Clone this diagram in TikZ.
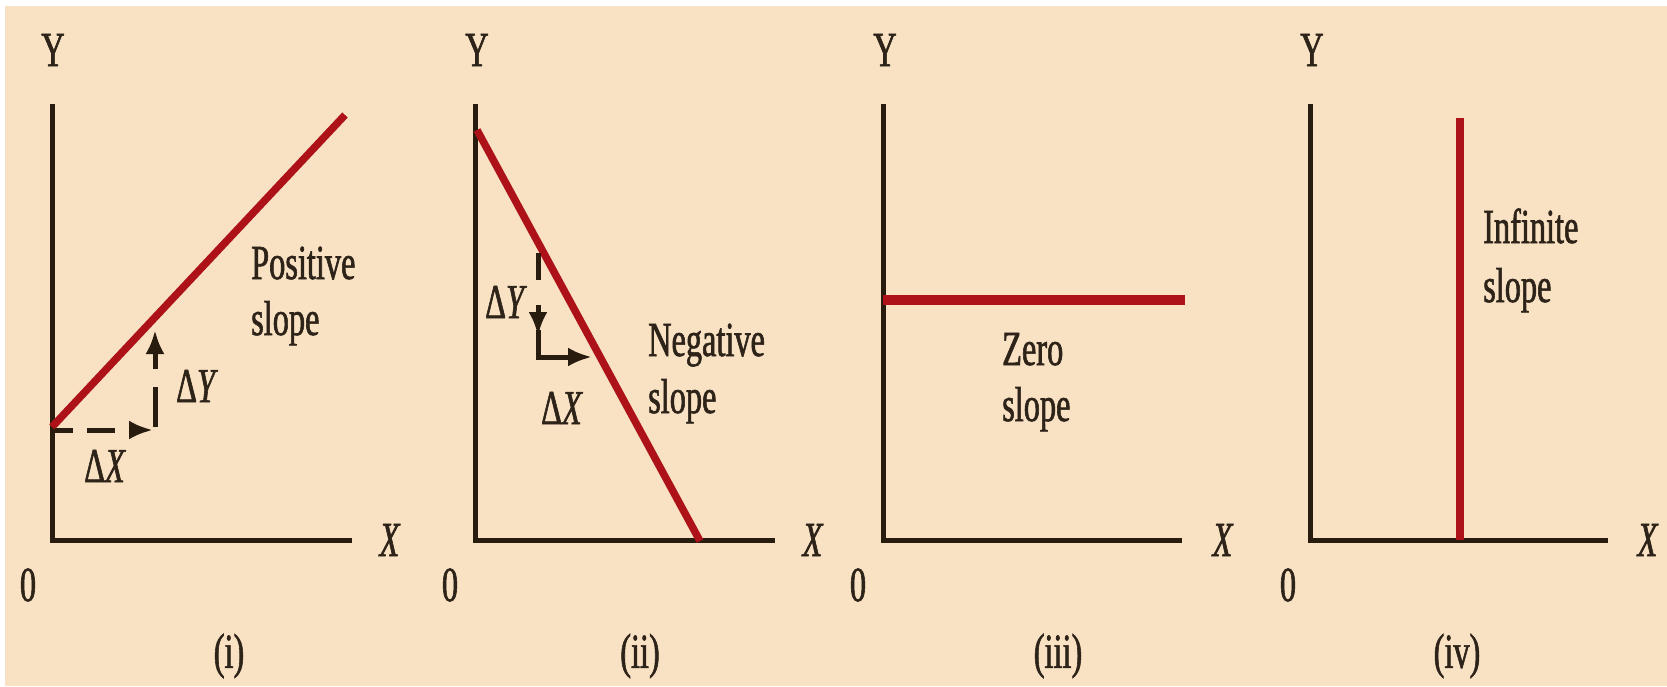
\documentclass[tikz,border=0pt]{standalone}
\usepackage{fontspec}
\usetikzlibrary{arrows.meta}
\newfontfamily\labfam{Liberation Serif}[FakeStretch=0.66,FakeBold=1.2]
\definecolor{bgpeach}{RGB}{249,225,195}
\definecolor{axisc}{RGB}{40,28,15}
\definecolor{redc}{RGB}{172,18,24}
\definecolor{txtc}{RGB}{45,35,25}
\tikzset{
  lbl/.style={inner sep=0pt, text=txtc, font=\labfam\fontsize{49}{57}\selectfont},
  axisline/.style={draw=axisc, line width=5pt, line join=miter},
  slopeline/.style={draw=redc, line width=7.5pt},
  deltaarrow/.style={draw=axisc, line width=5pt, -{Latex[length=24pt,width=19pt]}},
}
\begin{document}
\begin{tikzpicture}[x=1pt,y=-1pt]
\useasboundingbox (0,0) rectangle (1667,686);
\fill[white] (0,0) rectangle (1667,686);
\fill[bgpeach] (5,6) rectangle (1667,686);

% ---------- panel (i)
\coordinate (t1) at (52,104);
\coordinate (o1) at (52,540);
\coordinate (e1) at (352,540);
\coordinate (r1a) at (52,427);
\coordinate (r1b) at (345,115);
\coordinate (d1a) at (55,430);
\coordinate (d1b) at (153,430);
\coordinate (d1c) at (155,427);
\coordinate (d1d) at (155,330);
\draw[axisline] (t1) -- (o1) -- (e1);
\draw[slopeline] (r1a) -- (r1b);
\draw[deltaarrow, dash pattern=on 18pt off 14pt on 28pt off 14pt] (d1a) -- (d1b);
\draw[deltaarrow, dash pattern=on 40pt off 18pt] (d1c) -- (d1d);
\node[lbl] (y1) at (53,50) {Y};
\node[lbl] (x1) at (390,540) {\textit{X}};
\node[lbl] (z1) at (28,585) {0};
\node[lbl] (c1) at (229,656) {(i)};
\node[lbl] (dx1) at (105,466) {Δ\textit{X}};
\node[lbl] (dy1) at (197,386) {Δ\textit{Y}};
\node[lbl, anchor=base west] (p1a) at (251,279) {Positive};
\node[lbl, anchor=base west] (p1b) at (251,335) {slope};

% ---------- panel (ii)
\coordinate (t2) at (475,104);
\coordinate (o2) at (475,540);
\coordinate (e2) at (775,540);
\coordinate (r2a) at (477,130);
\coordinate (r2b) at (700,541);
\coordinate (d2a) at (538,253);
\coordinate (d2b) at (538,336);
\coordinate (d2c) at (538,330);
\coordinate (d2k) at (538,357);
\coordinate (d2d) at (592,357);
\draw[axisline] (t2) -- (o2) -- (e2);
\draw[slopeline] (r2a) -- (r2b);
\draw[deltaarrow, dash pattern=on 27pt off 25pt] (d2a) -- (d2b);
\draw[deltaarrow] (d2c) -- (d2k) -- (d2d);
\node[lbl] (y2) at (477,50) {Y};
\node[lbl] (x2) at (813,540) {\textit{X}};
\node[lbl] (z2) at (450,585) {0};
\node[lbl] (c2) at (640,656) {(ii)};
\node[lbl] (dy2) at (506,302) {Δ\textit{Y}};
\node[lbl] (dx2) at (562,408) {Δ\textit{X}};
\node[lbl, anchor=base west] (n2a) at (648,356) {Negative};
\node[lbl, anchor=base west] (n2b) at (648,413) {slope};

% ---------- panel (iii)
\coordinate (t3) at (883,104);
\coordinate (o3) at (883,540);
\coordinate (e3) at (1182,540);
\coordinate (r3a) at (883,300);
\coordinate (r3b) at (1185,300);
\draw[axisline] (t3) -- (o3) -- (e3);
\draw[slopeline, line width=10pt] (r3a) -- (r3b);
\node[lbl] (y3) at (885,50) {Y};
\node[lbl] (x3) at (1223,540) {\textit{X}};
\node[lbl] (z3) at (858,585) {0};
\node[lbl] (c3) at (1058,656) {(iii)};
\node[lbl, anchor=base west] (z3a) at (1002,365) {Zero};
\node[lbl, anchor=base west] (z3b) at (1002,421) {slope};

% ---------- panel (iv)
\coordinate (t4) at (1310,104);
\coordinate (o4) at (1310,540);
\coordinate (e4) at (1608,540);
\coordinate (r4a) at (1460,118);
\coordinate (r4b) at (1460,540);
\draw[axisline] (t4) -- (o4) -- (e4);
\draw[slopeline] (r4a) -- (r4b);
\node[lbl] (y4) at (1312,50) {Y};
\node[lbl] (x4) at (1648,540) {\textit{X}};
\node[lbl] (z4) at (1288,585) {0};
\node[lbl] (c4) at (1457,656) {(iv)};
\node[lbl, anchor=base west] (i4a) at (1483,243) {Infinite};
\node[lbl, anchor=base west] (i4b) at (1483,302) {slope};
\end{tikzpicture}
\end{document}
